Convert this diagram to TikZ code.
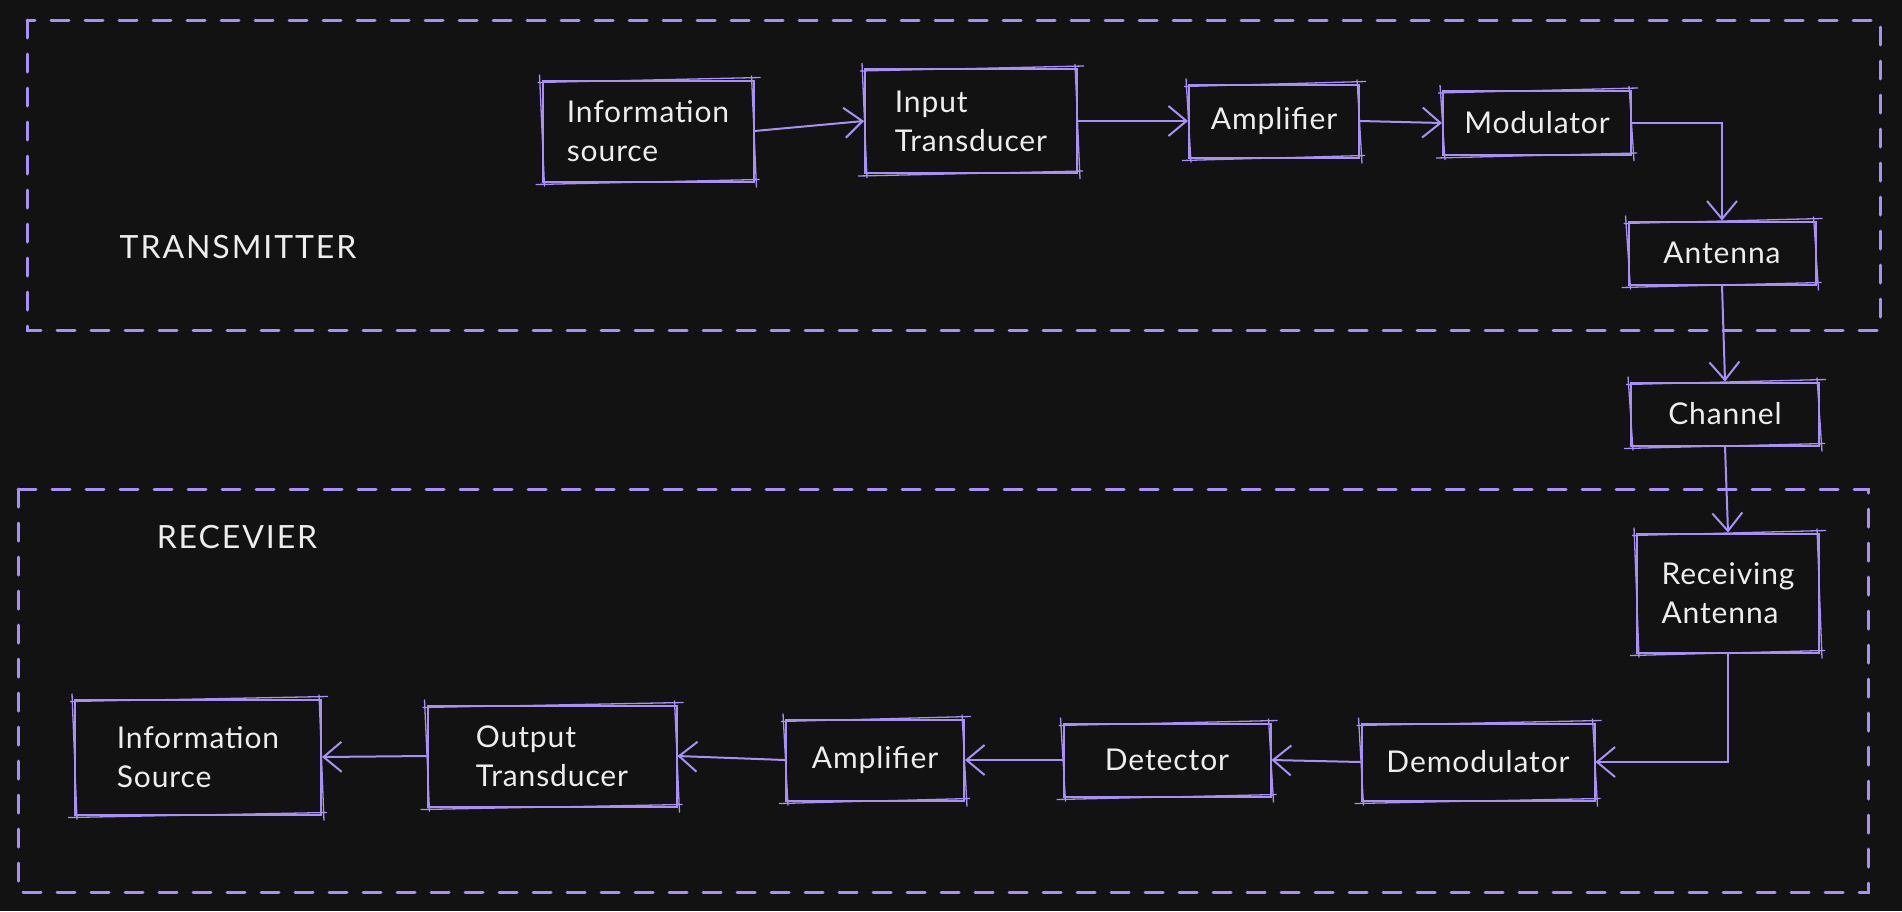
\documentclass[tikz,border=0pt]{standalone}
\usepackage{fontspec}
\setmainfont{Lato}
\usetikzlibrary{arrows.meta}
\definecolor{bg}{HTML}{121212}
\definecolor{lav}{HTML}{A990F5}
\definecolor{txt}{HTML}{EDEDED}
\newcommand\roughbox[1]{\draw[lav, line width=1.3pt]
  ([shift={(-4,3)}]#1.north west) -- ([shift={(6,-2)}]#1.north east)
  ([shift={(-3,-4)}]#1.north east) -- ([shift={(2,5)}]#1.south east)
  ([shift={(5,-3)}]#1.south east) -- ([shift={(-6,2)}]#1.south west)
  ([shift={(3,4)}]#1.south west) -- ([shift={(-2,-5)}]#1.north west);}
\begin{document}
\begin{tikzpicture}[x=1pt,y=-1pt,
  box/.style={draw=lav, line width=2pt, text=txt, font=\fontsize{30}{39}\selectfont\addfontfeatures{LetterSpace=3}, align=left, inner sep=0pt},
  conn/.style={draw=lav, line width=2pt, -{Straight Barb[length=18pt,width=30pt,line width=2pt]}},
  zone/.style={draw=lav, line width=3pt, dash pattern=on 18pt off 16pt, line cap=round},
  lbl/.style={text=txt, font=\fontsize{32}{38}\selectfont\addfontfeatures{LetterSpace=6}}]
\fill[bg] (0,0) rectangle (1902,911);
\useasboundingbox (0,0) rectangle (1902,911);
% zones
\draw[zone] (27,20) rectangle (1880,330);
\draw[zone] (18,489) rectangle (1868,892);
\node[lbl] (tx) at (238,247) {TRANSMITTER};
\node[lbl] (rx) at (237,537) {RECEVIER};
% nodes
\node[box, minimum width=211, minimum height=101] (info1) at (648,131) {Information\\source};
\node[box, minimum width=212, minimum height=104] (input) at (971,121) {Input\\Transducer};
\node[box, minimum width=170, minimum height=73] (amp1) at (1274,121) {Amplifier};
\node[box, minimum width=188, minimum height=64] (mod) at (1537,123) {Modulator};
\node[box, minimum width=187, minimum height=63] (ant) at (1722,253) {Antenna};
\node[box, minimum width=188, minimum height=63] (chan) at (1725,414) {Channel};
\node[box, minimum width=182, minimum height=119] (recv) at (1728,593) {Receiving\\Antenna};
\node[box, minimum width=233, minimum height=77] (demod) at (1478,762) {Demodulator};
\node[box, minimum width=207, minimum height=73] (det) at (1167,760) {Detector};
\node[box, minimum width=178, minimum height=81] (amp2) at (875,760) {Amplifier};
\node[box, minimum width=249, minimum height=101] (out) at (552,756) {Output\\Transducer};
\node[box, minimum width=246, minimum height=115] (info2) at (198,757) {Information\\Source};
\foreach \n in {info1,input,amp1,mod,ant,chan,recv,demod,det,amp2,out,info2}{\roughbox{\n}}
% connectors
\draw[conn] (info1.east) -- (input.west);
\draw[conn] (input.east) -- (amp1.west);
\draw[conn] (amp1.east) -- (mod.west);
\draw[conn] (mod.east) -| (ant.north);
\draw[conn] (ant.south) -- (chan.north);
\draw[conn] (chan.south) -- (recv.north);
\draw[conn] (recv.south) |- (demod.east);
\draw[conn] (demod.west) -- (det.east);
\draw[conn] (det.west) -- (amp2.east);
\draw[conn] (amp2.west) -- (out.east);
\draw[conn] (out.west) -- (info2.east);
\end{tikzpicture}
\end{document}
